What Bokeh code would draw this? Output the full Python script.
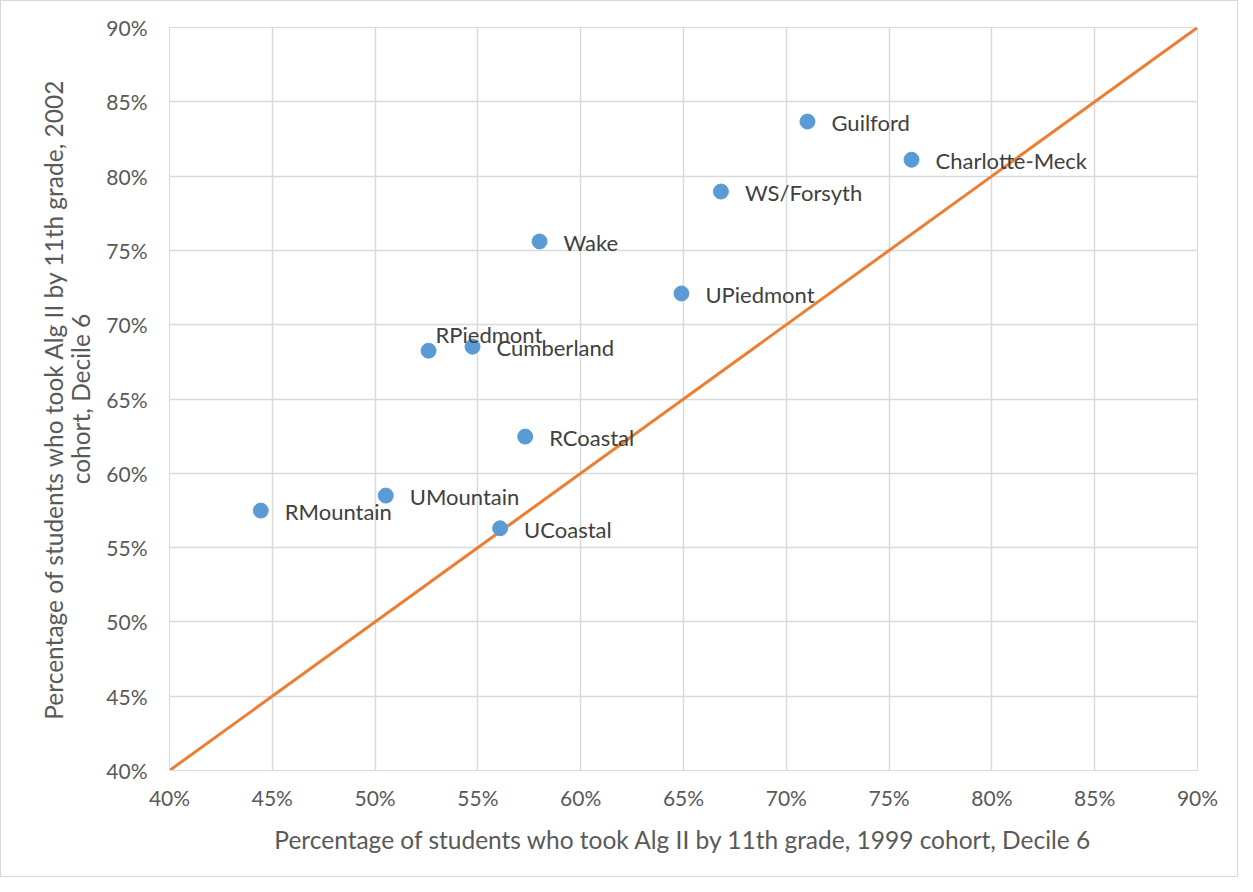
from bokeh.plotting import figure
from bokeh.models import ColumnDataSource, FixedTicker, NumeralTickFormatter, Range1d
from bokeh.core.properties import value
from bokeh.embed import file_html
from bokeh.resources import INLINE

# ---- data ----
districts = ["Guilford", "Charlotte-Meck", "WS/Forsyth", "Wake", "UPiedmont",
             "RPiedmont", "Cumberland", "RCoastal", "UMountain", "RMountain", "UCoastal"]
pct_1999 = [0.7103, 0.7609, 0.6682, 0.5800, 0.6490, 0.5260, 0.5474, 0.5730, 0.5052, 0.4444, 0.5608]
pct_2002 = [0.8367, 0.8110, 0.7896, 0.7560, 0.7210, 0.6825, 0.6852, 0.6247, 0.5850, 0.5749, 0.5630]
ref_line = [0.40, 0.90]
ticks = [0.40, 0.45, 0.50, 0.55, 0.60, 0.65, 0.70, 0.75, 0.80, 0.85, 0.90]

# label placement (pixels)
label_dx = {"RPiedmont": 7}
label_dy = {"RPiedmont": -16}

FONT = "Lato"
src = ColumnDataSource(dict(
    x=pct_1999, y=pct_2002, name=districts,
    dx=[label_dx.get(d, 24) for d in districts],
    dy=[label_dy.get(d, 1) for d in districts],
))

p = figure(frame_width=1028, frame_height=743, output_backend="svg", toolbar_location=None,
           x_range=Range1d(0.40, 0.90), y_range=Range1d(0.40, 0.90),
           min_border_left=168, min_border_right=40, min_border_top=26, min_border_bottom=106)
p.styles = {"border": "1px solid #d9d9d9"}

p.line(ref_line, ref_line, line_color="#ED7D31", line_width=3)
p.scatter("x", "y", source=src, size=15, fill_color="#5B9BD5", line_color="#5B9BD5")
p.text("x", "y", text="name", source=src, x_offset="dx", y_offset="dy",
       text_font=value(FONT), text_font_size="22px", text_color="#404040",
       text_baseline="middle", text_align="left")

for ax in (p.xaxis, p.yaxis):
    ax.ticker = FixedTicker(ticks=ticks)
    ax.formatter = NumeralTickFormatter(format="0%")
    ax.major_tick_line_color = None
    ax.minor_tick_line_color = None
    ax.major_tick_out = 0
    ax.major_tick_in = 0
    ax.minor_tick_out = 0
    ax.minor_tick_in = 0
    ax.axis_line_color = "#d9d9d9"
    ax.major_label_text_font = FONT
    ax.major_label_text_font_size = "21px"
    ax.major_label_text_color = "#595959"
    ax.axis_label_text_font = FONT
    ax.axis_label_text_font_size = "24.5px"
    ax.axis_label_text_color = "#595959"
    ax.axis_label_text_font_style = "normal"

p.yaxis.axis_label_text_line_height = 0.95
p.xaxis.major_label_standoff = 14
p.yaxis.major_label_standoff = 22
p.xaxis.axis_label = "Percentage of students who took Alg II by 11th grade, 1999 cohort, Decile 6"
p.yaxis.axis_label = "Percentage of students who took Alg II by 11th grade, 2002\ncohort, Decile 6"
p.xaxis.axis_label_standoff = 12
p.yaxis.axis_label_standoff = 8

p.xgrid.ticker = FixedTicker(ticks=ticks)
p.ygrid.ticker = FixedTicker(ticks=ticks)
p.grid.grid_line_color = "#d9d9d9"
p.grid.grid_line_width = 1.5
p.outline_line_color = "#d9d9d9"
p.background_fill_color = "white"
p.border_fill_color = "white"

open("out.html", "w").write(file_html(p, INLINE))
